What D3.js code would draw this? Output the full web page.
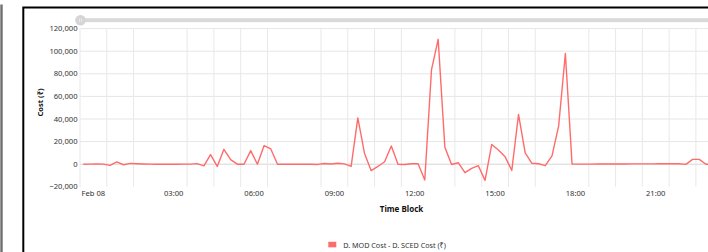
<!DOCTYPE html>
<html><head><meta charset="utf-8">
<script src="https://cdn.jsdelivr.net/npm/d3@7"></script>
<style>
html,body{margin:0;padding:0;background:#fff;}
svg{display:block;font-family:"Noto Sans","Open Sans",sans-serif;}
</style></head>
<body>
<svg id="chart" width="708" height="252"></svg>
<script>
// ---- data ----
const seriesName = "D. MOD Cost - D. SCED Cost (₹)";
const values = [
  0, 100, 200, 100, -1000, 2000, -500, 700,
  400, 200, 100, 0, 0, 0, 0, 100,
  100, 500, -1500, 8500, -2000, 13200, 4000, 0,
  0, 12000, 0, 16500, 13500, 0, 0, 0,
  0, 0, 0, -200, 600, 200, 900, 300,
  -2000, 41000, 9500, -5700, -2000, 2200, 16100, 0,
  -300, 400, 400, -14000, 83400, 110500, 15000, -300,
  1300, -7500, -3700, -1300, -14300, 17500, 12500, 6500,
  -5500, 44000, 10000, 800, 400, -1300, 7300, 34000,
  98000, 200, 100, 100, 100, 150, 150, 200,
  200, 200, 250, 250, 300, 300, 400, 400,
  400, 400, -200, 4300, 4300, 0, 0, 0
];
const yTicks = [-20000, 0, 20000, 40000, 60000, 80000, 100000, 120000];
const xLabelHours = [0, 3, 6, 9, 12, 15, 18, 21];
const xLabelText = ["Feb 08", "03:00", "06:00", "09:00", "12:00", "15:00", "18:00", "21:00"];
const gridHours = [0,1,2,4,5,6,7,9,10,11,12,14,15,16,17,19,20,21,22,23];

(function () {
// time blocks: 15-minute blocks of Feb 08
const day0 = new Date(2024, 1, 8, 0, 0, 0);
const blockMid = values.map((v, i) => new Date(day0.getTime() + (i * 15 + 7.5) * 60000));

// ---- layout ----
const svg = d3.select("#chart");
const pL = 80, pR = 722.7, pT = 28.6, pB = 186.8;
const x = d3.scaleTime().domain([day0, new Date(day0.getTime() + 24 * 3600000)]).range([pL, pR]);
const y = d3.scaleLinear().domain([-20000, 120000]).range([pB, pT]);
const hourDate = h => new Date(day0.getTime() + h * 3600000);

// outer frame
svg.append("rect").attr("x", 0.3).attr("y", 4.5).attr("width", 2.4).attr("height", 260).attr("fill", "#6f6f6f");
svg.append("rect").attr("x", 23.3).attr("y", 7.5).attr("width", 720).attr("height", 300)
  .attr("fill", "none").attr("stroke", "#000").attr("stroke-width", 2);

// scrollbar
svg.append("rect").attr("x", 84).attr("y", 18.2).attr("width", 640).attr("height", 4).attr("fill", "#d9d9d9");
svg.append("circle").attr("cx", 80.5).attr("cy", 20.2).attr("r", 5.3).attr("fill", "#d5d5d5");
[79.6, 81.4].forEach(gx => svg.append("line").attr("x1", gx).attr("x2", gx).attr("y1", 18.3).attr("y2", 22.1)
  .attr("stroke", "#f2f2f2").attr("stroke-width", 0.7));

// grid
const grid = svg.append("g");
grid.selectAll("line.h").data(yTicks.filter(t => t > -20000)).join("line")
  .attr("x1", pL).attr("x2", 708).attr("y1", d => y(d)).attr("y2", d => y(d))
  .attr("stroke", d => d === 0 ? "#d6d6d6" : "#e6e6e6").attr("stroke-width", 1);
grid.selectAll("line.v").data(gridHours).join("line")
  .attr("x1", d => x(hourDate(d))).attr("x2", d => x(hourDate(d)))
  .attr("y1", pT).attr("y2", pB)
  .attr("stroke", "#e8e8e8").attr("stroke-width", 1);

// y axis labels
const fmt = d3.format(",");
svg.append("g").selectAll("text").data(yTicks).join("text")
  .attr("x", 77.5).attr("y", d => y(d)).attr("dy", "0.35em")
  .attr("text-anchor", "end").attr("font-size", 7.6).attr("fill", "#333")
  .text(d => fmt(d));

// x axis labels (centered in the hour cell)
svg.append("g").selectAll("text").data(xLabelHours).join("text")
  .attr("x", d => x(new Date(hourDate(d).getTime() + 1800000)))
  .attr("y", 193.4).attr("dy", "0.35em")
  .attr("text-anchor", "middle").attr("font-size", 7.6).attr("fill", "#333")
  .text((d, i) => xLabelText[i]);

// axis titles
svg.append("text").attr("x", 401.5).attr("y", 208.8).attr("dy", "0.35em")
  .attr("text-anchor", "middle").attr("font-size", 8).attr("font-weight", "bold").attr("fill", "#111")
  .text("Time Block");
svg.append("text").attr("transform", "translate(40.5,102.5) rotate(-90)").attr("dy", "0.35em")
  .attr("text-anchor", "middle").attr("font-size", 7.6).attr("font-weight", "bold").attr("fill", "#111")
  .text("Cost (₹)");

// line
const line = d3.line().x((d, i) => x(blockMid[i])).y(d => y(d));
svg.append("path").datum(values).attr("d", line)
  .attr("fill", "none").attr("stroke", "#ff6b6b").attr("stroke-width", 1.4).attr("stroke-linejoin", "round");

// legend
const lg = svg.append("g");
lg.append("rect").attr("x", 328.3).attr("y", 241.8).attr("width", 8).attr("height", 5.5).attr("fill", "#ff6b6b");
lg.append("text").attr("x", 343.3).attr("y", 245).attr("dy", "0.35em").attr("font-size", 7.2).attr("fill", "#333")
  .text(seriesName);
})();
</script>
</body></html>
